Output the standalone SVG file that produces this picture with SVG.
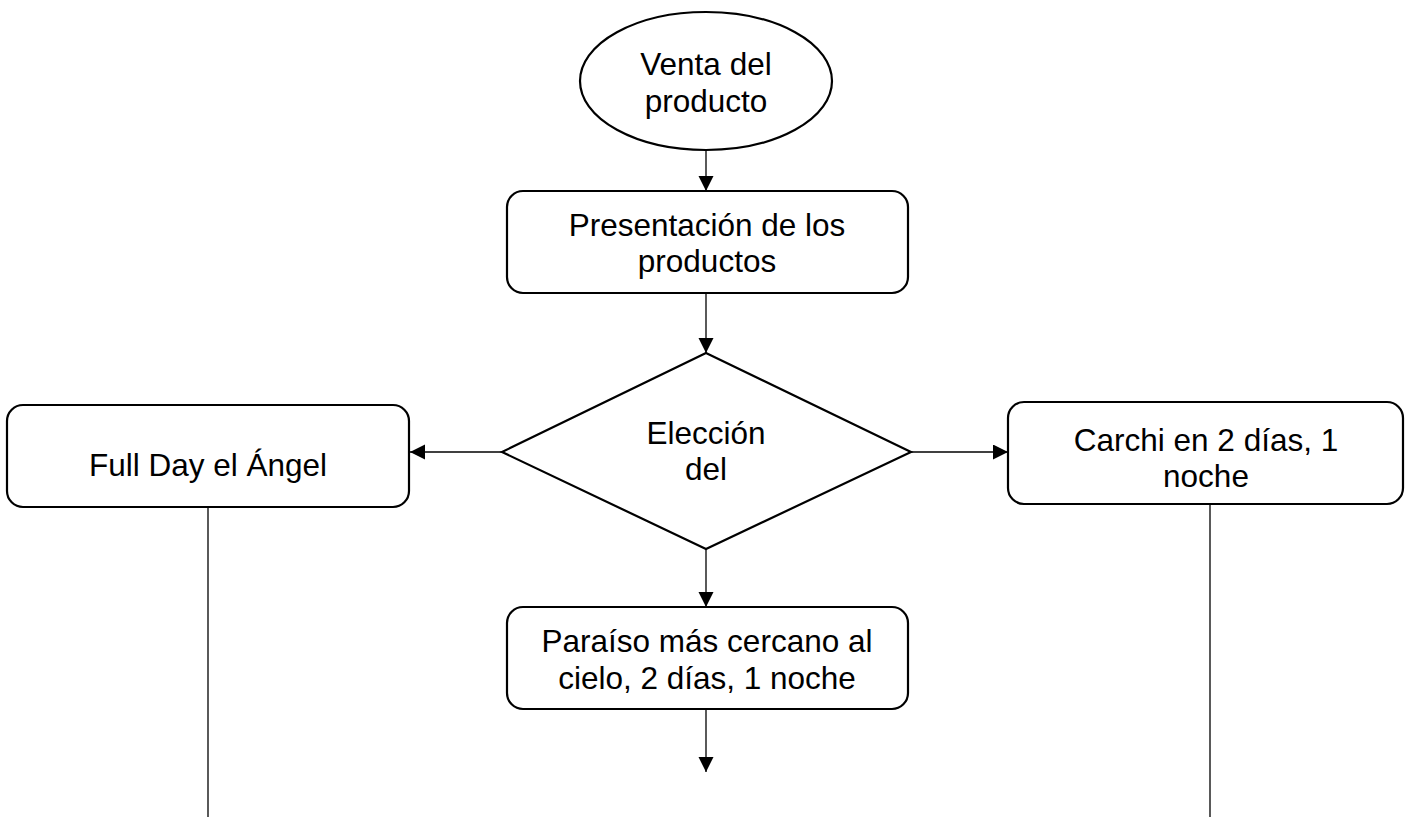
<svg xmlns="http://www.w3.org/2000/svg" width="1421" height="817" viewBox="0 0 1421 817">
<style>
.shape{fill:#fff;stroke:#000;stroke-width:2.2}
.conn{fill:none;stroke:#000;stroke-width:1.3}
text{font-family:"Liberation Sans",Arial,sans-serif;font-size:31.5px;fill:#000;text-anchor:middle}
</style>
<defs>
<marker id="ah" markerUnits="userSpaceOnUse" markerWidth="16" markerHeight="16" refX="15" refY="7.5" orient="auto">
<path d="M0,0 L15,7.5 L0,15 Z" fill="#000"/>
</marker>
</defs>
<rect width="1421" height="817" fill="#fff"/>
<g id="connectors">
<line class="conn" x1="706" y1="150" x2="706" y2="191" marker-end="url(#ah)"/>
<line class="conn" x1="706" y1="293" x2="706" y2="353" marker-end="url(#ah)"/>
<line class="conn" x1="502" y1="452" x2="410" y2="452" marker-end="url(#ah)"/>
<line class="conn" x1="911" y1="452" x2="1008" y2="452" marker-end="url(#ah)"/>
<line class="conn" x1="706" y1="549" x2="706" y2="607" marker-end="url(#ah)"/>
<line class="conn" x1="706" y1="709" x2="706" y2="772" marker-end="url(#ah)"/>
<line class="conn" x1="208" y1="507" x2="208" y2="817"/>
<line class="conn" x1="1210" y1="504" x2="1210" y2="817"/>
</g>
<g id="start">
<ellipse class="shape" cx="706" cy="81" rx="126" ry="69"/>
<text x="706" y="75">Venta del</text>
<text x="706" y="112">producto</text>
</g>
<g id="presentacion">
<rect class="shape" x="507" y="191" width="401" height="102" rx="16"/>
<text x="707" y="236">Presentación de los</text>
<text x="707" y="272">productos</text>
</g>
<g id="eleccion">
<polygon class="shape" points="706,353 911,452 706,549 502,452"/>
<text x="706" y="444">Elección</text>
<text x="706" y="480">del</text>
</g>
<g id="fullday">
<rect class="shape" x="7" y="405" width="402" height="102" rx="16"/>
<text x="208" y="476">Full Day el Ángel</text>
</g>
<g id="carchi">
<rect class="shape" x="1008" y="402" width="395" height="102" rx="16"/>
<text x="1206" y="451">Carchi en 2 días, 1</text>
<text x="1206" y="487">noche</text>
</g>
<g id="paraiso">
<rect class="shape" x="507" y="607" width="401" height="102" rx="16"/>
<text x="707" y="652">Paraíso más cercano al</text>
<text x="707" y="689">cielo, 2 días, 1 noche</text>
</g>
</svg>
